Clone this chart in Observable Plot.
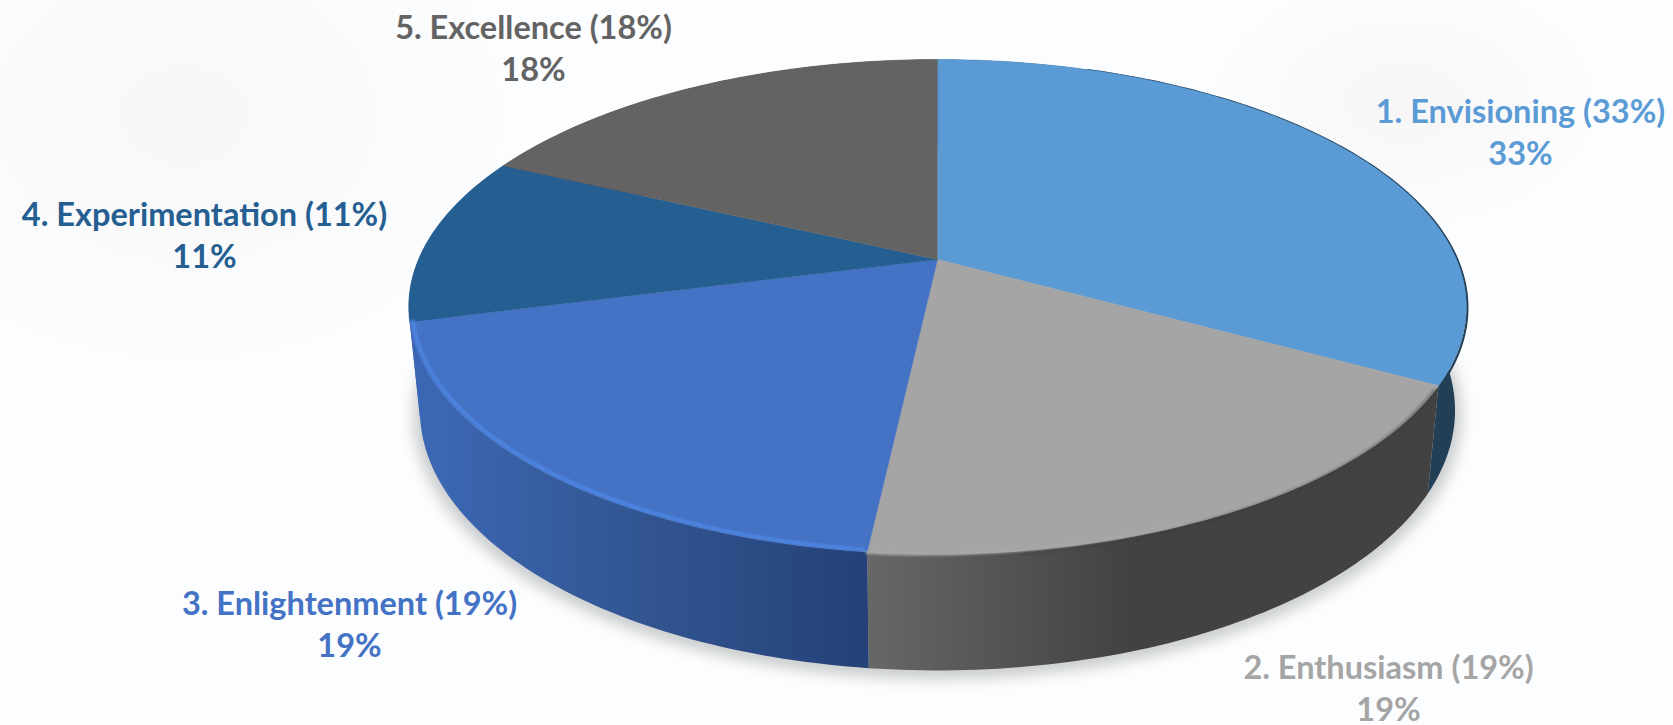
<!DOCTYPE html>
<html>
<head>
<meta charset="utf-8">
<script src="https://cdn.jsdelivr.net/npm/d3@7"></script>
<script src="https://cdn.jsdelivr.net/npm/@observablehq/plot@0.6"></script>
<style>
  html, body { margin: 0; padding: 0; overflow: hidden; }
  body {
    background:
      radial-gradient(ellipse 340px 260px at 11% 16%, #f7f7f8, rgba(247,247,248,0)),
      radial-gradient(ellipse 200px 130px at 84% 14%, #f6f6f7, rgba(246,246,247,0)),
      #fcfdfe;
  }
  svg { display: block; }
</style>
</head>
<body>
<div id="chart"></div>
<script>
const stages = ["1. Envisioning", "2. Enthusiasm", "3. Enlightenment", "4. Experimentation", "5. Excellence"];
const shares = [33, 19, 19, 11, 18];
const topColors = ["#5b9bd5", "#a5a5a5", "#4472c4", "#255e91", "#636363"];

// Label placement in chart units, kept apart from the values
const labelX = [1520, 1388, 349, 204, 533];
const labelY = [130, 686, 622, 233, 46];

// Camera: the disc's top face and its bottom face, each a perspective view of the unit circle
const faces = {
  top: {cx: 937, cy: 259, bx: 519, by: 238.2, p: 0.191},
  bottom: {cx: 937, cy: 360.3, bx: 508, by: 250.5, p: 0.191}
};
// Small lens correction that eases angles near the front of the disc
const lens = deg => deg - 0.9 * Math.exp(-(((deg - 187) / 32) ** 2));
function project(deg, face, r = 1) {
  const f = faces[face];
  const t = lens(deg) * Math.PI / 180;
  const u = r * Math.sin(t), v = r * Math.cos(t);
  const d = 1 + f.p * v;
  return {x: f.cx + f.bx * u / d, y: f.cy - f.by * v / d};
}
function arc(a0, a1, face, r0 = 1, r1 = r0) {
  const n = Math.max(2, Math.ceil(Math.abs(a1 - a0)));
  return d3.range(n + 1).map(i => project(a0 + (a1 - a0) * i / n, face, r0 + (r1 - r0) * i / n));
}

// Cumulative slice angles, clockwise from twelve o'clock
const total = d3.sum(shares);
const ends = d3.cumsum(shares).map(c => c / total * 360);
const slices = stages.map((stage, i) => ({stage, share: shares[i], color: topColors[i], a0: i ? ends[i - 1] : 0, a1: ends[i]}));

const topFace = s => [project(0, "top", 0), ...arc(s.a0, s.a1, "top")];
const wall = s => [...arc(s.a0, s.a1, "top"), ...arc(s.a1, s.a0, "bottom")];

const wallFills = ["#223f56", "url(#wall-grey)", "url(#wall-blue)", "#3a66b3", "#4a4a4a"];

// Gradients that shade the side wall from the left-hand lit edge towards the right
function gradients() {
  const g = d3.create("svg:g");
  const defs = g.append("defs");
  const add = (id, x1, x2, stops) => {
    const lg = defs.append("linearGradient").attr("id", id).attr("gradientUnits", "userSpaceOnUse")
      .attr("x1", x1).attr("x2", x2).attr("y1", 0).attr("y2", 0);
    stops.forEach(([o, c]) => lg.append("stop").attr("offset", o).attr("stop-color", c));
  };
  add("wall-grey", 868, 1130, [[0, "#676767"], [1, "#424242"]]);
  add("wall-blue", 440, 868, [[0, "#3b66b2"], [0.5, "#31548f"], [1, "#244178"]]);
  return g.node();
}

const line = (points, options) => Plot.line(points, {x: "x", y: "y", ...options});

const plot = Plot.plot({
  width: 1673,
  height: 725,
  margin: 0,
  style: {background: "transparent"},
  x: {domain: [0, 1673], range: [0, 1673], axis: null},
  y: {domain: [0, 725], range: [0, 725], axis: null},
  marks: [
    gradients,
    // Soft cast shadow under the disc
    line(arc(0, 360, "bottom", 1.012).map(d => ({x: d.x, y: d.y + 4})), {fill: "#a9abad", fillOpacity: 0.6, stroke: "none", imageFilter: "blur(7px)"}),
    ...slices.map((s, i) => line(wall(s), {fill: wallFills[i], stroke: "none"})),
    // Dark rim behind the top face, emerging gradually along the back right
    line(arc(20, ends[0], "top", 0.998, 1.003), {stroke: "#223f56", strokeWidth: 2.2, imageFilter: "blur(0.7px)"}),
    ...slices.map(s => line(topFace(s), {fill: s.color, stroke: s.color, strokeWidth: 0.5})),
    // Bevel along the front of the top face: shadow on the right, highlight on the left
    line(arc(ends[0] + 1, ends[1] - 14, "top", 0.999, 1.007), {stroke: "#3c3c3c", strokeWidth: 2.5, strokeOpacity: 0.6, imageFilter: "blur(1.5px)"}),
    line(arc(ends[1] - 30, ends[1], "top", 0.993, 1.002), {stroke: "#a8a8a8", strokeWidth: 3, imageFilter: "blur(0.8px)"}),
    line(arc(ends[1] + 0.4, ends[2], "top", 0.994), {stroke: "#4d86e2", strokeWidth: 3.5, imageFilter: "blur(1px)"}),
    // Stage names with their shares
    ...slices.map((s, i) => Plot.text([`${s.stage} (${s.share}%)\n${s.share}%`], {
      x: () => labelX[i],
      y: () => labelY[i],
      text: d => d,
      fill: s.color,
      fontFamily: "Lato",
      fontWeight: 700,
      fontSize: 32.5,
      lineHeight: 1.29,
      textAnchor: "middle",
      lineAnchor: "middle"
    }))
  ]
});
document.getElementById("chart").append(plot);
</script>
</body>
</html>
